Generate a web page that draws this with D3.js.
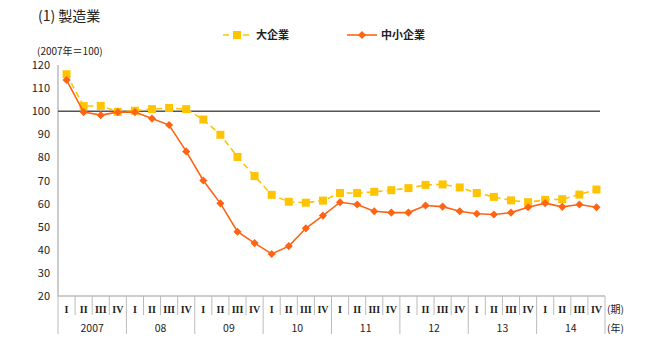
<!DOCTYPE html>
<html>
<head>
<meta charset="utf-8">
<script src="https://cdn.jsdelivr.net/npm/d3@7"></script>
<style>
  body { margin: 0; background: #fff; }
  svg text { font-family: "Noto Sans CJK JP", sans-serif; fill: #222; }
</style>
</head>
<body>
<div id="main"></div>
<script>
const ctx = {
    WIDTH: 658,
    HEIGHT: 354,
};

// data (2007 = 100)
const years = ["2007", "08", "09", "10", "11", "12", "13", "14"];
const quarters = ["I", "II", "III", "IV"];
const yTicks = [20, 30, 40, 50, 60, 70, 80, 90, 100, 110, 120];

const large = [116, 102.2, 102.3, 99.7, 100.2, 100.9, 101.4, 100.9,
               96.4, 89.8, 80.2, 71.9, 63.8, 60.8, 60.4, 61.3,
               64.6, 64.6, 65.1, 65.8, 66.7, 68.1, 68.3, 67.0,
               64.6, 62.9, 61.4, 60.6, 61.6, 61.9, 63.9, 66.1];
const sme = [113.5, 99.6, 98.3, 99.6, 99.6, 96.8, 94.0, 82.6,
             70.0, 60.1, 47.8, 42.9, 38.2, 41.6, 49.3, 54.8,
             60.6, 59.6, 56.7, 56.1, 56.1, 59.2, 58.7, 56.7,
             55.6, 55.3, 56.1, 58.4, 60.2, 58.6, 59.6, 58.4];

const COL_LARGE = "#ffc400";
const COL_SME = "#ff6414";

const margin = {left: 58, right: 605, top: 65, bottom: 296};

function createViz(){
    let svgEl = d3.select("#main").append("svg")
        .attr("width", ctx.WIDTH)
        .attr("height", ctx.HEIGHT);

    let periods = [];
    years.forEach(y => quarters.forEach(q => periods.push(y + q)));

    let x = d3.scaleBand().domain(periods).range([margin.left, margin.right]);
    let y = d3.scaleLinear().domain([20, 120]).range([margin.bottom, margin.top]);
    let cx = i => x(periods[i]) + x.bandwidth() / 2;

    // title
    svgEl.append("text").attr("x", 38).attr("y", 21)
        .style("font-size", "14px").text("(1) 製造業");
    svgEl.append("text").attr("x", 37).attr("y", 55)
        .style("font-size", "10px").text("(2007年＝100)");

    // y axis
    let yAxis = svgEl.append("g").attr("transform", `translate(${margin.left},0)`)
        .call(d3.axisLeft(y).tickValues(yTicks).tickSize(0).tickPadding(8));
    yAxis.select(".domain").remove();
    yAxis.selectAll("text").style("font-size", "11px").style("font-family", "Noto Sans CJK JP, sans-serif").attr("fill", "#222");
    svgEl.append("line")
        .attr("x1", margin.left).attr("x2", margin.left)
        .attr("y1", margin.top).attr("y2", margin.bottom)
        .attr("stroke", "#bbb").attr("stroke-width", 1.5);

    // x axis baseline
    svgEl.append("line")
        .attr("x1", margin.left).attr("x2", margin.right)
        .attr("y1", margin.bottom).attr("y2", margin.bottom)
        .attr("stroke", "#bbb").attr("stroke-width", 1.5);

    // quarter and year dividers
    let xg = svgEl.append("g");
    periods.forEach((p, i) => {
        let isYear = i % 4 === 0;
        xg.append("line")
            .attr("x1", x(p)).attr("x2", x(p))
            .attr("y1", margin.bottom).attr("y2", isYear ? 334 : 315)
            .attr("stroke", "#bbb").attr("stroke-width", 1);
        xg.append("text")
            .attr("x", cx(i)).attr("y", 313)
            .attr("text-anchor", "middle")
            .style("font-size", "10px")
            .style("font-family", "Liberation Serif, serif")
            .style("font-weight", "bold")
            .text(quarters[i % 4]);
    });
    xg.append("line")
        .attr("x1", margin.right).attr("x2", margin.right)
        .attr("y1", margin.bottom).attr("y2", 334)
        .attr("stroke", "#bbb").attr("stroke-width", 1);
    years.forEach((yr, j) => {
        let x0 = x(yr + "I"), x1 = x(yr + "IV") + x.bandwidth();
        xg.append("text")
            .attr("x", (x0 + x1) / 2).attr("y", 332)
            .attr("text-anchor", "middle")
            .style("font-size", "10.5px")
            .text(yr);
    });
    xg.append("text").attr("x", 607).attr("y", 313).style("font-size", "10px").text("(期)");
    xg.append("text").attr("x", 607).attr("y", 332).style("font-size", "10px").text("(年)");

    // reference line at 100
    svgEl.append("line")
        .attr("x1", margin.left).attr("x2", 600)
        .attr("y1", y(100)).attr("y2", y(100))
        .attr("stroke", "#555").attr("stroke-width", 1.5);

    let line = d3.line().x((d, i) => cx(i)).y(d => y(d));

    // large firms
    svgEl.append("path").datum(large)
        .attr("d", line).attr("fill", "none")
        .attr("stroke", COL_LARGE).attr("stroke-width", 1.6)
        .attr("stroke-dasharray", "6,4");
    svgEl.append("g").selectAll("rect")
        .data(large).enter().append("rect")
        .attr("x", (d, i) => cx(i) - 4).attr("y", d => y(d) - 4)
        .attr("width", 8).attr("height", 8)
        .attr("fill", COL_LARGE);

    // SMEs
    svgEl.append("path").datum(sme)
        .attr("d", line).attr("fill", "none")
        .attr("stroke", COL_SME).attr("stroke-width", 1.6);
    let diamond = d3.symbol().type(d3.symbolDiamond2).size(42);
    svgEl.append("g").selectAll("path")
        .data(sme).enter().append("path")
        .attr("d", diamond)
        .attr("transform", (d, i) => `translate(${cx(i)},${y(d)})`)
        .attr("fill", COL_SME);

    // legend
    let lg = svgEl.append("g");
    lg.append("line").attr("x1", 223).attr("x2", 250).attr("y1", 35).attr("y2", 35)
        .attr("stroke", COL_LARGE).attr("stroke-width", 1.6).attr("stroke-dasharray", "6,4");
    lg.append("rect").attr("x", 233).attr("y", 31).attr("width", 8).attr("height", 8).attr("fill", COL_LARGE);
    lg.append("text").attr("x", 256).attr("y", 39).style("font-size", "11px").style("font-weight", "bold").text("大企業");
    lg.append("line").attr("x1", 347).attr("x2", 377).attr("y1", 35).attr("y2", 35)
        .attr("stroke", COL_SME).attr("stroke-width", 1.6);
    lg.append("path").attr("d", diamond).attr("transform", "translate(362,35)").attr("fill", COL_SME);
    lg.append("text").attr("x", 381).attr("y", 39).style("font-size", "11px").style("font-weight", "bold").text("中小企業");
}

createViz();
</script>
</body>
</html>
